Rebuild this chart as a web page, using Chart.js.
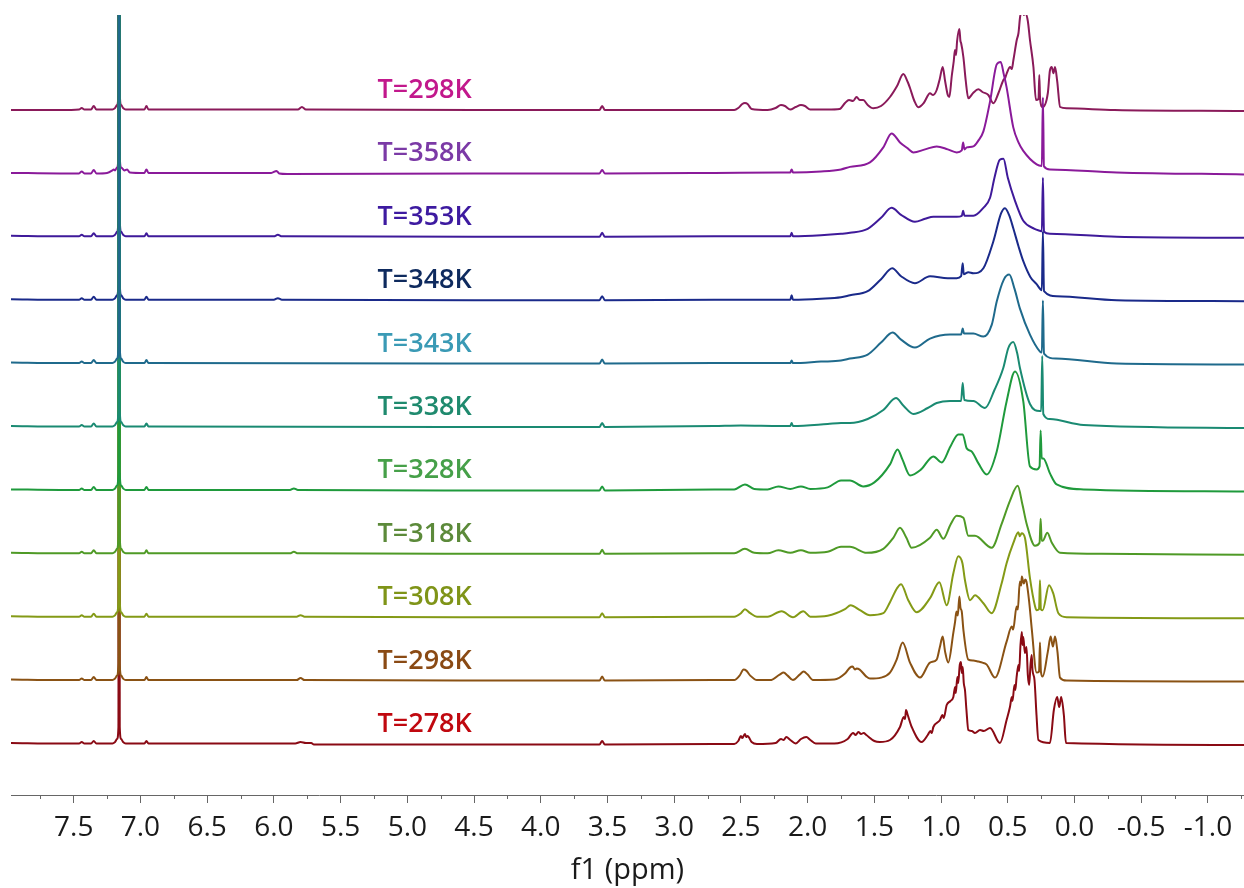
<!DOCTYPE html>
<html><head><meta charset="utf-8">
<script src="https://cdn.jsdelivr.net/npm/chart.js@4/dist/chart.umd.min.js"></script>
<style>html,body{margin:0;padding:0;background:#fff;}canvas{display:block;}</style>
</head><body>
<canvas id="c" width="1244" height="888"></canvas>
<script>
// ---- Series labels (bottom trace first) ----
const tempLabels = ['T=278K','T=298K','T=308K','T=318K','T=328K','T=338K','T=343K','T=348K','T=353K','T=358K','T=298K'];
const lineColors = ['#8a0a14','#8a5214','#849a16','#4f9a26','#1f9a3c','#1a8a72','#1f6a8c','#1a2a8a','#3f1a9a','#8a1a9a','#8a1a5a'];
const labelColors = ['#c0080f','#8a4a14','#7f9418','#5c8a3a','#46a049','#1f8a6e','#3a9ab5','#0e2a5e','#3d1aa0','#7b3aa6','#c2188c'];

// ---- x-axis ticks (ppm) ----
const ppmTicks = [7.5,7.0,6.5,6.0,5.5,5.0,4.5,4.0,3.5,3.0,2.5,2.0,1.5,1.0,0.5,0.0,-0.5,-1.0];

// ---- spectra: [ppm, intensity above own baseline] ----
const s278 = [[7.97,2],[7.6,1.5],[7.46,1.5],[7.44,3],[7.42,1.5],[7.37,1.5],[7.35,4],[7.33,1.5],[7.21,1.5],[7.19,3],[7.175,6],[7.165,18],[7.16,1000],[7.155,18],[7.145,6],[7.13,3],[7.11,1.5],[6.97,1.5],[6.955,4],[6.94,1.5],[5.84,1.5],[5.8,3],[5.76,2],[5.72,2],[5.7,0.5],[4.5,0.5],[3.56,0.5],[3.54,4],[3.52,0.5],
 [2.7,1],[2.55,1],[2.52,4],[2.5,9],[2.49,7],[2.47,11],[2.46,8],[2.45,9],[2.42,3],[2.38,1],[2.24,2],[2.2,6],[2.18,5],[2.16,8],[2.13,5],[2.09,1.5],[2.05,6],[2.01,8],[1.98,5],[1.94,1.5],[1.8,1.5],[1.7,6],[1.66,12],[1.64,10],[1.62,13],[1.6,11],[1.58,12],[1.56,10],[1.5,4],[1.46,3],[1.383,5],[1.308,18],[1.28,28],[1.27,26],[1.263,35],[1.25,30],[1.22,18],[1.146,3],[1.1,10],[1.08,14],[1.07,12],[1.058,18],[1.008,25],[0.99,30],[0.98,27],[0.958,40],[0.93,44],[0.908,48],[0.895,58],[0.89,52],[0.878,68],[0.872,62],[0.86,80],[0.851,83],[0.845,72],[0.838,78],[0.83,62],[0.821,55],[0.81,35],[0.796,15],[0.77,14],[0.746,12],[0.708,15],[0.68,14],[0.633,17],[0.559,2],[0.509,25],[0.484,38],[0.47,48],[0.465,44],[0.45,60],[0.444,55],[0.434,68],[0.42,80],[0.415,74],[0.405,100],[0.395,113],[0.39,100],[0.384,108],[0.372,92],[0.36,98],[0.35,70],[0.34,60],[0.33,80],[0.321,90],[0.315,75],[0.3,65],[0.285,30],[0.271,5],[0.184,2],[0.155,35],[0.13,48],[0.115,38],[0.1,48],[0.08,30],[0.064,2],[-1.27,0]];
const s298 = [[7.97,2],[7.6,1.5],[7.46,1.5],[7.44,3],[7.42,1.5],[7.37,1.5],[7.35,4.5],[7.33,1.5],[7.21,1.5],[7.19,3],[7.175,6],[7.165,18],[7.16,1000],[7.155,18],[7.145,6],[7.13,3],[7.11,1.5],[6.97,1.5],[6.955,4.5],[6.94,1.5],[5.83,1.5],[5.8,3.5],[5.77,1.5],[4.5,1],[3.56,1],[3.54,5],[3.52,1],
 [2.7,1.5],[2.55,1.5],[2.51,6],[2.48,12],[2.46,11],[2.43,6],[2.38,1.5],[2.28,1.5],[2.21,7],[2.18,9],[2.15,6],[2.11,1.5],[2.06,7],[2.03,10],[2.0,7],[1.96,1.5],[1.8,2],[1.72,8],[1.683,14],[1.663,15],[1.645,12],[1.633,13],[1.61,12],[1.56,5],[1.533,3],[1.45,4],[1.383,9],[1.333,22],[1.288,39],[1.233,19],[1.158,4],[1.083,19],[1.033,22],[1.01,34],[0.988,45],[0.97,30],[0.946,19],[0.908,49],[0.895,60],[0.885,70],[0.875,66],[0.863,85],[0.855,74],[0.845,70],[0.833,52],[0.796,22],[0.76,21],[0.721,20],[0.69,19],[0.658,17],[0.596,4],[0.509,40],[0.47,55],[0.46,52],[0.434,75],[0.425,72],[0.41,100],[0.4,96],[0.395,105],[0.38,98],[0.37,102],[0.36,100],[0.34,80],[0.32,52],[0.284,9],[0.266,10],[0.259,39],[0.252,10],[0.239,5],[0.2,30],[0.179,45],[0.162,35],[0.146,45],[0.128,30],[0.109,4],[0.059,1],[-1.27,0]];
const s308 = [[7.97,2],[7.6,1.5],[7.46,1.5],[7.44,3],[7.42,1.5],[7.37,1.5],[7.35,4.5],[7.33,1.5],[7.21,1.5],[7.19,3],[7.175,6],[7.165,18],[7.16,1000],[7.155,18],[7.145,6],[7.13,3],[7.11,1.5],[6.97,1.5],[6.955,4.5],[6.94,1.5],[5.83,1.5],[5.8,3],[5.77,1.5],[4.5,1],[3.56,1],[3.54,5],[3.52,1],
 [2.7,1.5],[2.55,1.5],[2.5,5],[2.47,9],[2.43,5],[2.38,1.5],[2.3,1.5],[2.195,7],[2.11,1],[2.033,7],[1.98,1.5],[1.85,2.5],[1.72,9],[1.678,13],[1.608,8],[1.533,3],[1.433,5],[1.383,16],[1.33,30],[1.3,34],[1.246,18],[1.183,6],[1.083,20],[1.013,36],[0.958,13],[0.908,45],[0.871,62],[0.84,55],[0.821,38],[0.783,18],[0.746,23],[0.683,15],[0.621,5],[0.546,35],[0.509,55],[0.459,75],[0.421,86],[0.41,82],[0.396,85],[0.371,80],[0.334,40],[0.296,12],[0.284,8],[0.266,9],[0.259,38],[0.252,9],[0.239,8],[0.191,33],[0.16,25],[0.121,5],[0.059,1],[-1.27,0]];
const s318 = [[7.97,2],[7.6,1.5],[7.46,1.5],[7.44,3],[7.42,1.5],[7.37,1.5],[7.35,4.5],[7.33,1.5],[7.21,1.5],[7.19,3],[7.175,6],[7.165,18],[7.16,1000],[7.155,18],[7.145,6],[7.13,3],[7.11,1.5],[6.97,1.5],[6.955,4.5],[6.94,1.5],[5.88,1.5],[5.85,3],[5.82,1.5],[4.5,1],[3.56,1],[3.54,5],[3.52,1],
 [2.7,1.5],[2.55,1.5],[2.47,6],[2.4,2],[2.3,1.5],[2.22,4.5],[2.13,2],[2.05,4.5],[1.98,2],[1.85,3],[1.75,8],[1.683,8],[1.558,2],[1.433,6],[1.358,17],[1.308,27],[1.26,17],[1.221,7],[1.083,17],[1.033,25],[0.983,16],[0.93,30],[0.883,39],[0.833,37],[0.796,19],[0.746,19],[0.621,7],[0.546,31],[0.484,54],[0.426,69],[0.39,50],[0.359,31],[0.296,9],[0.262,12],[0.254,36],[0.246,14],[0.239,14],[0.204,22],[0.17,12],[0.109,2],[-0.2,1],[-1.27,0]];
const s328 = [[7.97,2],[7.6,1.5],[7.46,1.5],[7.44,3],[7.42,1.5],[7.37,1.5],[7.35,4.5],[7.33,1.5],[7.21,1.5],[7.19,3],[7.175,6],[7.165,18],[7.16,1000],[7.155,18],[7.145,6],[7.13,3],[7.11,1.5],[6.97,1.5],[6.955,4.5],[6.94,1.5],[5.88,1.5],[5.85,3],[5.82,1.5],[4.5,1],[3.56,1],[3.54,5],[3.52,1],
 [2.7,2],[2.55,2],[2.47,7],[2.4,2.5],[2.3,2],[2.22,5],[2.13,2.5],[2.05,5],[1.98,2.5],[1.85,4],[1.75,11],[1.683,11],[1.583,5],[1.5,9],[1.383,27],[1.326,42],[1.29,32],[1.233,16],[1.15,22],[1.058,35],[0.996,29],[0.93,45],[0.871,57],[0.838,57],[0.808,43],[0.771,40],[0.72,28],[0.658,17],[0.583,40],[0.509,90],[0.446,120],[0.384,90],[0.334,25],[0.284,22],[0.262,25],[0.254,61],[0.246,33],[0.234,33],[0.184,18],[0.134,7],[-0.067,2],[-1.27,0]];
const s338 = [[7.97,2],[7.6,1.5],[7.46,1.5],[7.44,3],[7.42,1.5],[7.37,1.5],[7.35,4.5],[7.33,1.5],[7.21,1.5],[7.19,3],[7.175,6],[7.165,18],[7.16,1000],[7.155,18],[7.145,6],[7.13,3],[7.11,1.5],[6.97,1.5],[6.955,4.5],[6.94,1.5],[4.5,1],[3.56,1],[3.54,5],[3.52,1],
 [2.7,2],[2.5,2.5],[2.2,2],[2.13,2],[2.12,5],[2.11,2],[1.85,4],[1.75,5],[1.683,5],[1.55,9],[1.433,18],[1.338,30],[1.28,22],[1.208,14],[1.1,20],[1.033,25],[0.933,27],[0.85,27],[0.838,45],[0.826,28],[0.758,27],[0.671,20],[0.6,38],[0.534,60],[0.496,80],[0.459,86],[0.43,75],[0.409,60],[0.334,24],[0.26,17],[0.25,17],[0.242,72],[0.234,14],[0.184,9],[-0.067,3],[-1.27,0]];
const s343 = [[7.97,2],[7.6,1.5],[7.46,1.5],[7.44,3],[7.42,1.5],[7.37,1.5],[7.35,4.5],[7.33,1.5],[7.21,1.5],[7.19,3],[7.175,6],[7.165,18],[7.16,1000],[7.155,18],[7.145,6],[7.13,3],[7.11,1.5],[6.97,1.5],[6.955,4.5],[6.94,1.5],[4.5,1],[3.56,1],[3.54,5],[3.52,1],
 [2.7,1.5],[2.13,1.5],[2.12,4],[2.11,1.5],[1.9,3],[1.75,4],[1.683,6],[1.55,10],[1.45,22],[1.363,32],[1.3,25],[1.196,17],[1.083,26],[0.933,30],[0.85,30],[0.838,36],[0.828,31],[0.758,31],[0.683,28],[0.62,40],[0.583,63],[0.53,85],[0.489,90],[0.45,76],[0.409,56],[0.334,30],[0.259,13],[0.245,12],[0.237,64],[0.229,11],[0.139,6],[-0.317,1],[-1.27,0]];
const s348 = [[7.97,2],[7.6,1.5],[7.46,1.5],[7.44,3],[7.42,1.5],[7.37,1.5],[7.35,4.5],[7.33,1.5],[7.21,1.5],[7.19,3],[7.175,6],[7.165,18],[7.16,1000],[7.155,18],[7.145,6],[7.13,3],[7.11,1.5],[6.97,1.5],[6.955,4.5],[6.94,1.5],[6.0,1.5],[5.97,3],[5.94,1.5],[4.5,1],[3.56,1],[3.54,5],[3.52,1],
 [2.7,1.5],[2.13,1.5],[2.12,6],[2.11,1.5],[1.9,2.5],[1.75,4],[1.683,6],[1.55,10],[1.45,22],[1.366,33],[1.3,25],[1.196,18],[1.083,25],[0.95,23],[0.883,23],[0.85,25],[0.838,38],[0.83,27],[0.796,29],[0.758,28],[0.683,33],[0.608,60],[0.55,88],[0.521,93],[0.49,86],[0.459,73],[0.42,55],[0.384,40],[0.33,24],[0.284,17],[0.245,11],[0.237,70],[0.229,10],[0.134,5],[-0.317,1],[-1.27,0]];
const s353 = [[7.97,2],[7.6,1.5],[7.46,1.5],[7.44,3],[7.42,1.5],[7.37,1.5],[7.35,4.5],[7.33,1.5],[7.21,1.5],[7.19,3],[7.175,6],[7.165,18],[7.16,1000],[7.155,18],[7.145,6],[7.13,3],[7.11,1.5],[6.97,1.5],[6.955,4.5],[6.94,1.5],[6.0,1.5],[5.97,3],[5.94,1.5],[4.5,1],[3.56,1],[3.54,5],[3.52,1],
 [2.7,1.5],[2.13,1.5],[2.12,5],[2.11,1.5],[1.9,2.5],[1.75,4],[1.683,5],[1.55,9],[1.45,20],[1.371,30],[1.3,23],[1.196,16],[1.12,19],[1.058,21],[0.95,21],[0.883,21],[0.845,22],[0.835,27],[0.825,22],[0.758,22],[0.683,30],[0.633,40],[0.6,60],[0.56,78],[0.533,79],[0.5,60],[0.446,37],[0.384,17],[0.3,9],[0.259,7],[0.245,6.5],[0.237,60],[0.229,6],[0.184,4],[-0.317,1],[-1.27,0]];
const s358 = [[7.97,1.5],[7.6,1],[7.46,1],[7.44,3],[7.42,1],[7.37,1],[7.35,4.5],[7.33,1],[7.25,1.5],[7.21,4],[7.2,5],[7.19,4],[7.175,7],[7.165,18],[7.16,1000],[7.155,18],[7.145,7],[7.12,4],[7.1,5],[7.08,2],[6.97,1.5],[6.955,5],[6.94,1.5],[6.02,1.5],[5.98,3.5],[5.96,1],[5.9,0.5],[4.5,1],[3.56,1],[3.54,4.5],[3.52,1],
 [2.7,1.5],[2.2,2],[2.13,2],[2.12,5],[2.11,2],[1.9,3],[1.75,5],[1.683,7.5],[1.533,12],[1.433,27],[1.371,41],[1.308,32],[1.25,26],[1.208,22],[1.12,25],[1.033,28],[0.95,25],[0.883,22],[0.845,24],[0.835,32],[0.825,25],[0.808,27],[0.758,28],[0.72,34],[0.683,43],[0.633,73],[0.583,110],[0.553,112.5],[0.53,100],[0.509,87],[0.459,47],[0.42,32],[0.384,23.5],[0.284,10],[0.245,8.5],[0.237,77],[0.229,8],[0.184,5],[-0.317,2],[-1.27,0]];
const s298top = [[7.97,1],[7.6,1],[7.46,1.5],[7.44,3],[7.42,1.5],[7.37,1.5],[7.35,5],[7.33,1.5],[7.21,1.5],[7.19,3],[7.175,6],[7.165,18],[7.16,1000],[7.155,18],[7.145,6],[7.13,3],[7.11,1.5],[6.97,1.5],[6.955,5],[6.94,1.5],[5.82,1.5],[5.79,4],[5.76,1.5],[4.5,1],[3.56,1],[3.54,5],[3.52,1],
 [2.7,1],[2.55,1],[2.52,3],[2.49,7],[2.47,8],[2.45,7],[2.42,2],[2.3,1],[2.24,3],[2.2,6],[2.17,5],[2.13,1.5],[2.09,4],[2.05,6],[2.02,5],[1.98,1.5],[1.85,1.5],[1.76,2],[1.72,8],[1.69,11],[1.66,10],[1.633,14],[1.61,11],[1.583,11],[1.55,6],[1.508,2.7],[1.45,5],[1.383,14],[1.33,25],[1.283,37],[1.25,29],[1.233,23],[1.2,10],[1.171,3.7],[1.13,8],[1.083,17.7],[1.06,16],[1.033,21],[1.01,32],[0.988,44],[0.97,30],[0.95,16],[0.938,14],[0.92,35],[0.905,50],[0.896,61],[0.888,56],[0.88,70],[0.863,82],[0.855,70],[0.85,68],[0.833,54],[0.815,30],[0.796,12.7],[0.76,18],[0.721,21.7],[0.69,19],[0.646,16],[0.608,7.7],[0.57,18],[0.533,31],[0.52,33],[0.508,37.7],[0.483,44],[0.47,42],[0.458,51],[0.433,71],[0.42,78],[0.408,94],[0.39,102],[0.38,96],[0.37,98],[0.35,90],[0.334,71],[0.308,44],[0.289,11],[0.27,12],[0.264,36],[0.258,12],[0.239,4],[0.2,18],[0.185,40],[0.171,44],[0.158,37.7],[0.146,44],[0.13,30],[0.108,4],[0.058,2.7],[-0.3,1],[-1.27,0]];

const spectra = [s278, s298, s308, s318, s328, s338, s343, s348, s353, s358, s298top];
// draw order (lower = drawn later / on top)
const drawOrder = [6,5,4,3,2,1,0,7,8,9,10];

// stacking layout constants
const BASE0 = 50, STEP = 63.4, LABEL_PPM = 4.87, LABEL_LIFT = 13;

const datasets = spectra.map((s, i) => ({
  label: tempLabels[i],
  data: s.map(p => ({x: p[0], y: BASE0 + i * STEP + p[1]})),
  borderColor: lineColors[i],
  borderWidth: 2,
  pointRadius: 0,
  fill: false,
  cubicInterpolationMode: 'monotone',
  order: drawOrder[i]
}));

const labelPlugin = {
  id: 'tempLabels',
  afterDatasetsDraw(chart) {
    const ctx = chart.ctx, xs = chart.scales.x, ys = chart.scales.y;
    ctx.save();
    ctx.font = '600 27px "Open Sans"';
    ctx.textAlign = 'center';
    ctx.textBaseline = 'alphabetic';
    tempLabels.forEach((t, i) => {
      ctx.fillStyle = labelColors[i];
      ctx.fillText(t, xs.getPixelForValue(LABEL_PPM), ys.getPixelForValue(BASE0 + i * STEP + LABEL_LIFT));
    });
    ctx.restore();
  },
  afterDraw(chart) {
    const ctx = chart.ctx, xs = chart.scales.x, y0 = xs.top;
    ctx.save();
    ctx.strokeStyle = '#666';
    ctx.lineWidth = 1;
    for (let k = 0; k < ppmTicks.length; k++) {
      const v = ppmTicks[k] + 0.25;
      const px = Math.round(xs.getPixelForValue(v)) + 0.5;
      ctx.beginPath(); ctx.moveTo(px, y0); ctx.lineTo(px, y0 + 4); ctx.stroke();
    }
    const pxl = Math.round(xs.getPixelForValue(-1.25)) + 0.5;
    ctx.beginPath(); ctx.moveTo(pxl, y0); ctx.lineTo(pxl, y0 + 4); ctx.stroke();
    ctx.restore();
  }
};

new Chart(document.getElementById('c'), {
  type: 'line',
  data: { datasets },
  options: {
    responsive: false,
    animation: false,
    devicePixelRatio: 1,
    layout: { padding: { left: 11, top: 15, right: 0, bottom: 0 } },
    plugins: { legend: { display: false }, tooltip: { enabled: false } },
    scales: {
      x: {
        type: 'linear',
        reverse: true,
        min: -1.27,
        max: 7.97,
        afterFit: (scale) => { scale.height = 93; },
        afterBuildTicks: (scale) => { scale.ticks = ppmTicks.map(v => ({value: v})); },
        ticks: {
          includeBounds: false,
          stepSize: 0.5,
          autoSkip: false,
          maxRotation: 0,
          padding: 8,
          color: '#1a1a1a',
          font: { family: '"Open Sans"', size: 28 },
          callback: (v) => Number(v).toFixed(1)
        },
        grid: { drawOnChartArea: false, drawTicks: true, tickLength: 8, tickColor: '#666', lineWidth: 1 },
        border: { display: true, color: '#666', width: 1 },
        title: { display: true, text: 'f1 (ppm)', color: '#1a1a1a', font: { family: '"Open Sans"', size: 29 }, padding: { top: 0, bottom: 0 } }
      },
      y: { type: 'linear', display: false, min: 0, max: 780 }
    }
  },
  plugins: [labelPlugin]
});
</script>
</body></html>
